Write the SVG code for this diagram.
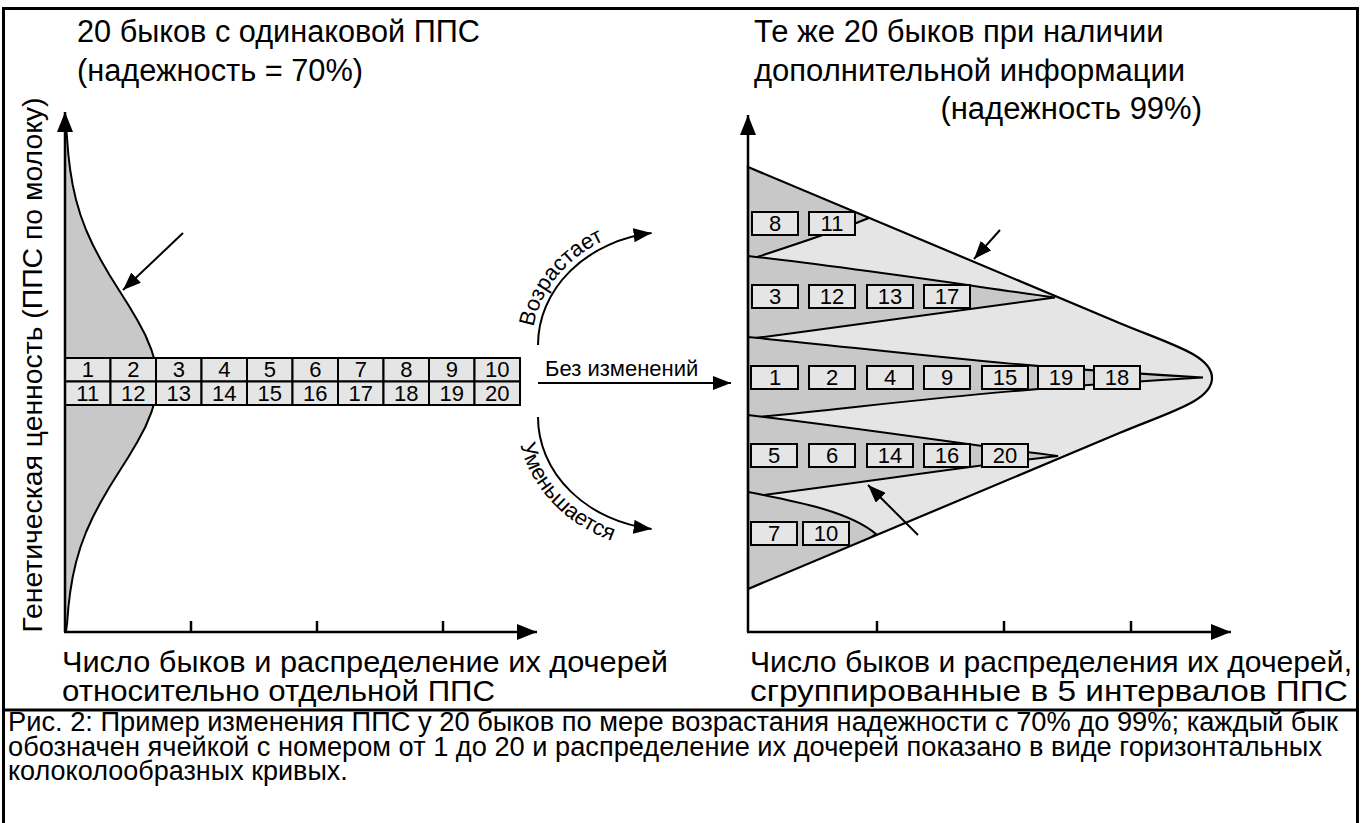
<svg xmlns="http://www.w3.org/2000/svg" width="1362" height="823" viewBox="0 0 1362 823">
<style>
text{font-family:"Liberation Sans",Arial,sans-serif;fill:#000}
.t30{font-size:31px}
.t30b{font-size:30px}
.cap{font-size:27px}
.lbl{font-size:22px}
.num{font-size:22px;text-anchor:middle}
.box{fill:#e5e5e5;stroke:#000;stroke-width:2}
.ax{fill:none;stroke:#000;stroke-width:2.5}
.ln{fill:none;stroke:#000;stroke-width:2}
.dark{fill:#c8c8c8}
.light{fill:#e5e5e5}
</style>
<defs>
<marker id="ah" viewBox="0 0 18 14" markerWidth="18" markerHeight="14" refX="18" refY="7" orient="auto" markerUnits="userSpaceOnUse"><path d="M0,0 L18,7 L0,14 Z" fill="#000"/></marker>
<marker id="axh" viewBox="0 0 20 16" markerWidth="20" markerHeight="16" refX="20" refY="8" orient="auto" markerUnits="userSpaceOnUse"><path d="M0,0 L20,8 L0,16 Z" fill="#000"/></marker>
<path id="outerShape" d="M748,167 L1120,323.2 C1170,344.2 1212,355 1212,378 C1212,401 1170,411.8 1120,432.8 L748,589 Z"/>
<clipPath id="outerClip"><use href="#outerShape"/></clipPath>
<path id="txtUp" d="M532,345 A138,119 0 0 1 650.8,227.2"/>
<path id="txtDown" d="M517,417 A153,134 0 0 0 670,551"/>
</defs>

<g id="frame">
<rect x="3.5" y="8.5" width="1354" height="830" fill="none" stroke="#000" stroke-width="3"/>
<line x1="3" y1="710" x2="1359" y2="710" stroke="#000" stroke-width="3"/>
</g>

<g id="titles">
<text class="t30" x="77" y="42" textLength="403" lengthAdjust="spacingAndGlyphs">20 быков с одинаковой ППС</text>
<text class="t30" x="77" y="81" textLength="286" lengthAdjust="spacingAndGlyphs">(надежность = 70%)</text>
<text class="t30" x="754" y="42">Те же 20 быков при наличии</text>
<text class="t30" x="754" y="81">дополнительной информации</text>
<text class="t30" x="1202" y="119" text-anchor="end">(надежность 99%)</text>
</g>

<g id="left-chart">
<g id="left-bell">
<path class="dark" d="M65,125 L66,125 L67.2,140 L68.4,155 L70.2,170 L72.7,185 L76.1,200 L80.5,215 L86.1,230 L92.9,245 L100.8,260 L109.5,275 L118.9,290 L128.4,305 L137.3,320 L145.3,335 L151.5,350 L153.9,358 L153.9,404 L151.5,412 L145.3,427 L137.3,442 L128.4,457 L118.9,472 L109.5,487 L100.8,502 L92.9,517 L86.1,532 L80.5,547 L76.1,562 L72.7,577 L70.2,592 L68.4,607 L67.2,622 L66,632 L65,632 Z"/>
<polyline class="ln" stroke-linejoin="round" points="66,125 67.2,140 68.4,155 70.2,170 72.7,185 76.1,200 80.5,215 86.1,230 92.9,245 100.8,260 109.5,275 118.9,290 128.4,305 137.3,320 145.3,335 151.5,350 153.9,358"/>
<polyline class="ln" stroke-linejoin="round" points="153.9,404 151.5,412 145.3,427 137.3,442 128.4,457 118.9,472 109.5,487 100.8,502 92.9,517 86.1,532 80.5,547 76.1,562 72.7,577 70.2,592 68.4,607 67.2,622 66,632"/>
</g>
<g id="left-boxes">
<g id="L1"><rect class="box" x="65" y="358" width="45.5" height="23.5"/><text class="num" x="87.75" y="377">1</text></g>
<g id="L2"><rect class="box" x="110.5" y="358" width="45.5" height="23.5"/><text class="num" x="133.25" y="377">2</text></g>
<g id="L3"><rect class="box" x="156" y="358" width="45.5" height="23.5"/><text class="num" x="178.75" y="377">3</text></g>
<g id="L4"><rect class="box" x="201.5" y="358" width="45.5" height="23.5"/><text class="num" x="224.25" y="377">4</text></g>
<g id="L5"><rect class="box" x="247" y="358" width="45.5" height="23.5"/><text class="num" x="269.75" y="377">5</text></g>
<g id="L6"><rect class="box" x="292.5" y="358" width="45.5" height="23.5"/><text class="num" x="315.25" y="377">6</text></g>
<g id="L7"><rect class="box" x="338" y="358" width="45.5" height="23.5"/><text class="num" x="360.75" y="377">7</text></g>
<g id="L8"><rect class="box" x="383.5" y="358" width="45.5" height="23.5"/><text class="num" x="406.25" y="377">8</text></g>
<g id="L9"><rect class="box" x="429" y="358" width="45.5" height="23.5"/><text class="num" x="451.75" y="377">9</text></g>
<g id="L10"><rect class="box" x="474.5" y="358" width="45.5" height="23.5"/><text class="num" x="497.25" y="377">10</text></g>
<g id="L11"><rect class="box" x="65" y="381.5" width="45.5" height="23.5"/><text class="num" x="87.75" y="400.5">11</text></g>
<g id="L12"><rect class="box" x="110.5" y="381.5" width="45.5" height="23.5"/><text class="num" x="133.25" y="400.5">12</text></g>
<g id="L13"><rect class="box" x="156" y="381.5" width="45.5" height="23.5"/><text class="num" x="178.75" y="400.5">13</text></g>
<g id="L14"><rect class="box" x="201.5" y="381.5" width="45.5" height="23.5"/><text class="num" x="224.25" y="400.5">14</text></g>
<g id="L15"><rect class="box" x="247" y="381.5" width="45.5" height="23.5"/><text class="num" x="269.75" y="400.5">15</text></g>
<g id="L16"><rect class="box" x="292.5" y="381.5" width="45.5" height="23.5"/><text class="num" x="315.25" y="400.5">16</text></g>
<g id="L17"><rect class="box" x="338" y="381.5" width="45.5" height="23.5"/><text class="num" x="360.75" y="400.5">17</text></g>
<g id="L18"><rect class="box" x="383.5" y="381.5" width="45.5" height="23.5"/><text class="num" x="406.25" y="400.5">18</text></g>
<g id="L19"><rect class="box" x="429" y="381.5" width="45.5" height="23.5"/><text class="num" x="451.75" y="400.5">19</text></g>
<g id="L20"><rect class="box" x="474.5" y="381.5" width="45.5" height="23.5"/><text class="num" x="497.25" y="400.5">20</text></g>
</g>
<g id="left-axes">
<line class="ax" x1="65" y1="632" x2="65" y2="112" marker-end="url(#axh)"/>
<line class="ax" x1="64" y1="632" x2="537" y2="632" marker-end="url(#axh)"/>
<line class="ax" x1="191" y1="621" x2="191" y2="632"/>
<line class="ax" x1="317" y1="621" x2="317" y2="632"/>
<line class="ax" x1="443" y1="621" x2="443" y2="632"/>
</g>
<text id="y-label" style="font-size:28px" text-anchor="middle" transform="translate(42,365) rotate(-90)" textLength="535" lengthAdjust="spacingAndGlyphs">Генетическая ценность (ППС по молоку)</text>
<text class="t30b" x="62" y="672" textLength="606" lengthAdjust="spacingAndGlyphs">Число быков и распределение их дочерей</text>
<text class="t30b" x="62" y="701" textLength="433" lengthAdjust="spacingAndGlyphs">относительно отдельной ППС</text>
</g>

<g id="right-chart">
<g id="outer-bell"><use href="#outerShape" class="light"/></g>
<g id="lobes" clip-path="url(#outerClip)">
<path id="lobe-A" class="dark" stroke="#000" stroke-width="2" d="M748,140 L869,218 C845,228 800,243 748,260 Z"/>
<path id="lobe-B" class="dark" stroke="#000" stroke-width="2" d="M748,256 C855,268 965,285 1055,297.5 C965,309 855,325 748,339 Z"/>
<path id="lobe-C" class="dark" stroke="#000" stroke-width="2" d="M748,337 C900,352 1000,366 1203,377.5 C1000,389 900,403 748,418 Z"/>
<path id="lobe-D" class="dark" stroke="#000" stroke-width="2" d="M748,415 C860,428 970,445 1058,456 C970,466 860,483 748,497 Z"/>
<path id="lobe-E" class="dark" stroke="#000" stroke-width="2" d="M748,492 C800,502 850,512 876,534 L748,620 Z"/>
</g>
<use href="#outerShape" fill="none" stroke="#000" stroke-width="2.2"/>
<g id="right-boxes">
<g id="R8"><rect class="box" x="752" y="212" width="46" height="23"/><text class="num" x="775" y="231">8</text></g>
<g id="R11"><rect class="box" x="809" y="212" width="46" height="23"/><text class="num" x="832" y="231">11</text></g>
<g id="R3"><rect class="box" x="752" y="285" width="46" height="23"/><text class="num" x="775" y="304">3</text></g>
<g id="R12"><rect class="box" x="809" y="285" width="46" height="23"/><text class="num" x="832" y="304">12</text></g>
<g id="R13"><rect class="box" x="867" y="285" width="46" height="23"/><text class="num" x="890" y="304">13</text></g>
<g id="R17"><rect class="box" x="924" y="285" width="46" height="23"/><text class="num" x="947" y="304">17</text></g>
<g id="R1"><rect class="box" x="751" y="366" width="47" height="23"/><text class="num" x="775" y="385">1</text></g>
<g id="R2"><rect class="box" x="809" y="366" width="46" height="23"/><text class="num" x="832" y="385">2</text></g>
<g id="R4"><rect class="box" x="867" y="366" width="46" height="23"/><text class="num" x="890" y="385">4</text></g>
<g id="R9"><rect class="box" x="924" y="366" width="46" height="23"/><text class="num" x="947" y="385">9</text></g>
<g id="R15"><rect class="box" x="982" y="366" width="46" height="23"/><text class="num" x="1005" y="385">15</text></g>
<g id="R19"><rect class="box" x="1038" y="366" width="46" height="23"/><text class="num" x="1061" y="385">19</text></g>
<g id="R18"><rect class="box" x="1094" y="366" width="46" height="23"/><text class="num" x="1117" y="385">18</text></g>
<g id="R5"><rect class="box" x="751" y="444" width="46" height="23"/><text class="num" x="774" y="463">5</text></g>
<g id="R6"><rect class="box" x="809" y="444" width="46" height="23"/><text class="num" x="832" y="463">6</text></g>
<g id="R14"><rect class="box" x="867" y="444" width="46" height="23"/><text class="num" x="890" y="463">14</text></g>
<g id="R16"><rect class="box" x="924" y="444" width="46" height="23"/><text class="num" x="947" y="463">16</text></g>
<g id="R20"><rect class="box" x="982" y="444" width="46" height="23"/><text class="num" x="1005" y="463">20</text></g>
<g id="R7"><rect class="box" x="751" y="522" width="46" height="23"/><text class="num" x="774" y="541">7</text></g>
<g id="R10"><rect class="box" x="803" y="522" width="46" height="23"/><text class="num" x="826" y="541">10</text></g>
</g>
<g id="right-axes">
<line class="ax" x1="748" y1="632" x2="748" y2="115" marker-end="url(#axh)"/>
<line class="ax" x1="747" y1="632" x2="1231" y2="632" marker-end="url(#axh)"/>
<line class="ax" x1="877" y1="621" x2="877" y2="632"/>
<line class="ax" x1="1004" y1="621" x2="1004" y2="632"/>
<line class="ax" x1="1131" y1="621" x2="1131" y2="632"/>
</g>
<text class="t30b" x="750" y="672" textLength="602" lengthAdjust="spacingAndGlyphs">Число быков и распределения их дочерей,</text>
<text class="t30b" x="750" y="701" textLength="598" lengthAdjust="spacingAndGlyphs">сгруппированные в 5 интервалов ППС</text>
</g>

<g id="connectors">
<line class="ln" x1="183" y1="233" x2="123" y2="290" marker-end="url(#ah)"/>
<line class="ln" x1="1000" y1="230" x2="974" y2="259" marker-end="url(#ah)"/>
<line class="ln" x1="918" y1="535" x2="868" y2="485" marker-end="url(#ah)"/>
<line class="ln" x1="538" y1="383" x2="731" y2="383" marker-end="url(#ah)"/>
<path class="ln" d="M538,345 A132,113 0 0 1 651.6,233.1" marker-end="url(#ah)"/>
<path class="ln" d="M538,417 A132,113 0 0 0 651.6,528.9" marker-end="url(#ah)"/>
<text class="lbl" x="545" y="376">Без изменений</text>
<text class="lbl"><textPath href="#txtUp" startOffset="18">Возрастает</textPath></text>
<text class="lbl"><textPath href="#txtDown" startOffset="28">Уменьшается</textPath></text>
</g>

<g id="caption">
<text class="cap" x="8" y="731" textLength="1330" lengthAdjust="spacingAndGlyphs">Рис. 2:  Пример изменения ППС у 20 быков по мере возрастания надежности с 70% до 99%; каждый бык</text>
<text class="cap" x="8" y="756" textLength="1314" lengthAdjust="spacingAndGlyphs">обозначен ячейкой с номером от 1 до 20 и распределение их дочерей показано в виде горизонтальных</text>
<text class="cap" x="8" y="780">колоколообразных кривых.</text>
</g>
</svg>
